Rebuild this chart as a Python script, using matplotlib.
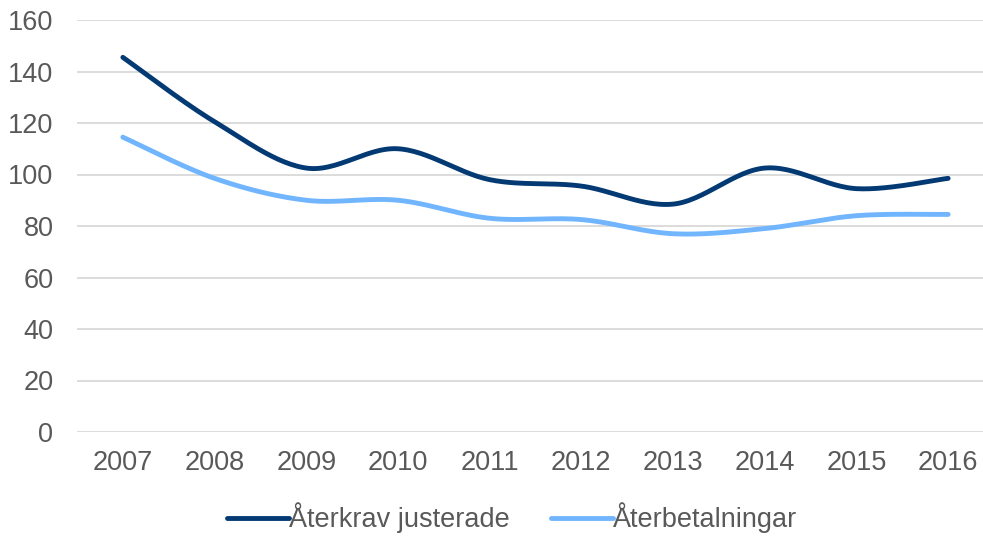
import numpy as np
import matplotlib
matplotlib.use("Agg")
import matplotlib.pyplot as plt

plt.rcParams['font.family'] = ['Liberation Sans', 'DejaVu Sans']

years = ["2007", "2008", "2009", "2010", "2011", "2012", "2013", "2014", "2015", "2016"]
aterkrav = [145.5, 120.5, 102.5, 110, 98, 95.5, 88.5, 102.5, 94.5, 98.5]
aterbetalningar = [114.5, 98.5, 90, 90, 83, 82.5, 77, 79, 84, 84.5]


def smooth(y, n=30):
    # Excel-style smoothed line (Catmull-Rom through the points)
    y = np.asarray(y, dtype=float)
    x = np.arange(len(y), dtype=float)
    px = np.concatenate([[x[0]], x, [x[-1]]])
    py = np.concatenate([[y[0]], y, [y[-1]]])
    xs, ys = [], []
    for i in range(len(y) - 1):
        p0x, p1x, p2x, p3x = px[i], px[i + 1], px[i + 2], px[i + 3]
        p0y, p1y, p2y, p3y = py[i], py[i + 1], py[i + 2], py[i + 3]
        c1x, c1y = p1x + (p2x - p0x) / 6, p1y + (p2y - p0y) / 6
        c2x, c2y = p2x - (p3x - p1x) / 6, p2y - (p3y - p1y) / 6
        t = np.linspace(0, 1, n)
        b0, b1, b2, b3 = (1 - t) ** 3, 3 * t * (1 - t) ** 2, 3 * t ** 2 * (1 - t), t ** 3
        xs.append(b0 * p1x + b1 * c1x + b2 * c2x + b3 * p2x)
        ys.append(b0 * p1y + b1 * c1y + b2 * c2y + b3 * p2y)
    return np.concatenate(xs), np.concatenate(ys)


fig = plt.figure(figsize=(9.83, 5.36), dpi=100)
ax = fig.add_axes([77 / 983, 1 - 432 / 536, (994 - 77) / 983, 412 / 536])

dark = "#033a73"
light = "#70b5fd"
txt = "#595959"

sx, sy = smooth(aterkrav)
ax.plot(sx, sy, color=dark, lw=3.5, solid_capstyle="round", label="Återkrav justerade", zorder=3)
sx, sy = smooth(aterbetalningar)
ax.plot(sx, sy, color=light, lw=3.5, solid_capstyle="round", label="Återbetalningar", zorder=3)

ax.set_xlim(-0.5, len(years) - 0.5)
ax.set_ylim(0, 160)
ax.set_yticks(np.arange(0, 161, 20))
ax.set_xticks(np.arange(len(years)))
ax.set_xticklabels(years)
ax.grid(axis="y", color="#d9d9d9", lw=1.3)
ax.set_axisbelow(True)
for s in ax.spines.values():
    s.set_visible(False)
ax.tick_params(axis="both", length=0, labelsize=19.5, colors=txt)
ax.tick_params(axis="y", pad=17)
ax.tick_params(axis="x", pad=13)

leg = fig.legend(loc="center", bbox_to_anchor=(512 / 983, 1 - 518 / 536), ncol=2, frameon=False,
                 fontsize=19.5, handlelength=2.3, handletextpad=0.0, columnspacing=1.5)
for t in leg.get_texts():
    t.set_color(txt)

fig.savefig("out.png", dpi=100)
